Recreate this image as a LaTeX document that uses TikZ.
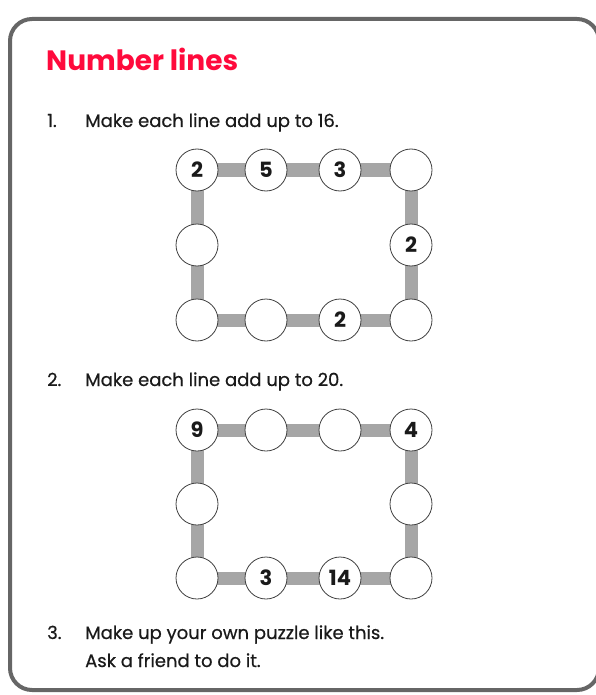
\documentclass[tikz,border=0pt]{standalone}
\usepackage{fontspec}
\setmainfont{Poppins}
\newfontfamily\bodyfont{Poppins}[FakeBold=0.6]
\usetikzlibrary{backgrounds}
\definecolor{titlered}{HTML}{FF0A3C}
\definecolor{framegray}{HTML}{666666}
\definecolor{bargray}{HTML}{A6A6A6}
\definecolor{textcol}{HTML}{1A1A1A}
\begin{document}
\begin{tikzpicture}[x=1pt,y=-1pt,
  circ/.style={circle, draw=black!75, line width=0.8pt, fill=white, minimum size=42pt, inner sep=0pt, text=textcol, font=\fontsize{21}{21}\selectfont\bfseries},
  bar/.style={line width=13pt, draw=bargray},
  txt/.style={anchor=base west, inner sep=0pt, text=textcol, font=\bodyfont\fontsize{18}{18}\selectfont},
  titletxt/.style={anchor=base west, inner sep=0pt, text=titlered, font=\fontsize{28}{28}\selectfont\bfseries}]
\useasboundingbox (0,0) rectangle (596,695);
\begin{scope}
  \clip (0,0) rectangle (596,695);
  \draw[line width=4pt, draw=framegray, rounded corners=22pt] (10,19) rectangle (599,690);
\end{scope}
% texts
\node[titletxt] (title) at (46,71) {Number lines};
\node[txt] (n1) at (47,127) {1.};
\node[txt] (t1) at (85,127) {Make each line add up to 16.};
\node[txt] (n2) at (47,386) {2.};
\node[txt] (t2) at (85,386) {Make each line add up to 20.};
\node[txt] (n3) at (47,639) {3.};
\node[txt] (t3) at (85,639) {Make up your own puzzle like this.};
\node[txt] (t4) at (85,667) {Ask a friend to do it.};
% puzzle 1
\node[circ] (pa1) at (197,170) {2};
\node[circ] (pa2) at (266,170) {5};
\node[circ] (pa3) at (340,170) {3};
\node[circ] (pa4) at (411,170) {};
\node[circ] (pal) at (197,245) {};
\node[circ] (par) at (411,245) {2};
\node[circ] (pb1) at (197,320) {};
\node[circ] (pb2) at (266,320) {};
\node[circ] (pb3) at (340,320) {2};
\node[circ] (pb4) at (411,320) {};
% puzzle 2
\node[circ] (qa1) at (197,430) {9};
\node[circ] (qa2) at (266,430) {};
\node[circ] (qa3) at (340,430) {};
\node[circ] (qa4) at (411,430) {4};
\node[circ] (qal) at (197,504) {};
\node[circ] (qar) at (411,504) {};
\node[circ] (qb1) at (197,578) {};
\node[circ] (qb2) at (266,578) {3};
\node[circ] (qb3) at (340,578) {14};
\node[circ] (qb4) at (411,578) {};
\begin{scope}[on background layer]
  \foreach \p in {p,q}{
    \draw[bar] (\p a1.center) -- (\p a2.center);
    \draw[bar] (\p a2.center) -- (\p a3.center);
    \draw[bar] (\p a3.center) -- (\p a4.center);
    \draw[bar] (\p a4.center) -- (\p ar.center);
    \draw[bar] (\p ar.center) -- (\p b4.center);
    \draw[bar] (\p b4.center) -- (\p b3.center);
    \draw[bar] (\p b3.center) -- (\p b2.center);
    \draw[bar] (\p b2.center) -- (\p b1.center);
    \draw[bar] (\p b1.center) -- (\p al.center);
    \draw[bar] (\p al.center) -- (\p a1.center);
  }
\end{scope}
\end{tikzpicture}
\end{document}
